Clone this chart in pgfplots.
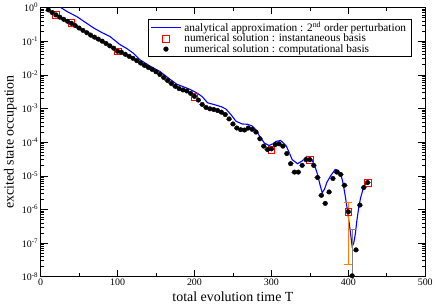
\documentclass[border=0pt]{standalone}
\usepackage{pgfplots}
\pgfplotsset{compat=1.18}
\usepackage{pgfplotstable}
\usepackage{fontspec}
\setmainfont{Liberation Serif}

\pgfplotstableread{
T ly
26 0.0
35 -0.13
47 -0.27
58 -0.44
69 -0.61
80 -0.75
90 -0.86
103 -1.10
112 -1.22
120 -1.35
129 -1.55
138 -1.68
142 -1.74
155 -1.90
168 -2.13
177 -2.28
185 -2.35
194 -2.43
204 -2.55
210 -2.65
217 -2.83
228 -2.90
235 -2.95
241 -3.02
248 -3.20
254 -3.38
262 -3.46
269 -3.47
275 -3.52
280 -3.64
284 -3.80
291 -4.03
297 -4.10
302 -4.05
306 -3.98
312 -3.95
319 -4.10
323 -4.30
327 -4.52
334 -4.64
340 -4.56
346 -4.42
350 -4.45
353 -4.54
357 -4.75
360 -4.96
363 -5.25
366 -5.50
369 -5.40
372 -5.20
377 -5.00
383 -4.81
387 -4.84
390 -4.94
393 -5.20
396 -5.60
399 -6.05
402 -6.55
405 -7.10
407 -7.00
409 -6.75
411 -6.35
413.5 -5.95
416 -5.65
420 -5.33
425.5 -5.15
}\analytic

\pgfplotstableread{
T ly
20 -0.215
40 -0.46
100 -1.30
200 -2.65
300 -4.22
350 -4.52
400 -6.07
425 -5.20
}\inst

\pgfplotstableread{
T ly
10 -0.07
15 -0.15
20 -0.22
25 -0.29
30 -0.35
35 -0.41
40 -0.47
45 -0.54
50 -0.61
55 -0.68
60 -0.75
65 -0.82
70 -0.88
75 -0.94
80 -1.00
85 -1.07
90 -1.14
95 -1.21
100 -1.30
105 -1.33
110 -1.39
115 -1.45
120 -1.51
125 -1.58
130 -1.65
135 -1.72
140 -1.78
145 -1.84
150 -1.91
155 -1.99
160 -2.08
165 -2.17
170 -2.26
175 -2.34
180 -2.41
185 -2.45
190 -2.48
195 -2.55
200 -2.64
205 -2.75
210 -2.88
215 -2.97
220 -3.01
225 -3.03
230 -3.06
235 -3.11
240 -3.18
245 -3.31
250 -3.46
255 -3.58
260 -3.63
265 -3.64
270 -3.58
275 -3.62
280 -3.70
285 -3.90
290 -4.12
295 -4.22
300 -4.20
305 -4.07
310 -4.05
315 -4.12
320 -4.34
325 -4.64
330 -4.89
335 -4.89
340 -4.69
345 -4.52
350 -4.52
355 -4.69
360 -5.05
365 -5.58
370 -5.82
375 -5.48
380 -5.08
385 -4.89
390 -4.96
395 -5.28
400 -6.07
405 -7.97
410 -7.20
415 -5.87
420 -5.35
425 -5.20
}\comp

\begin{document}
\begin{tikzpicture}
\begin{axis}[
  scale only axis,
  width=387pt, height=271pt,
  xmin=0, xmax=500,
  ymode=log, ymin=1e-8, ymax=1,
  xtick={0,100,200,300,400,500},
  xticklabels={0,100,200,300,400,500},
  minor x tick num=1,
  ytick={1e-8,1e-7,1e-6,1e-5,1e-4,1e-3,1e-2,1e-1,1},
  yticklabels={10\textsuperscript{-8},10\textsuperscript{-7},10\textsuperscript{-6},10\textsuperscript{-5},10\textsuperscript{-4},10\textsuperscript{-3},10\textsuperscript{-2},10\textsuperscript{-1},10\textsuperscript{0}},
  tick label style={font=\fontsize{10}{12}\selectfont},
  xticklabel style={yshift=1.5pt},
  yticklabel style={xshift=1pt},
  major tick length=7pt, minor tick length=3.5pt,
  tick style={black, line width=0.6pt},
  axis line style={line width=0.8pt},
  xlabel={total evolution time T},
  ylabel={excited state occupation},
  label style={font=\fontsize{14}{16}\selectfont},
  xlabel style={at={(axis description cs:0.5,-0.046)}, anchor=north, inner sep=0pt, inner ysep=2.5pt},
  ylabel style={at={(axis description cs:-0.0517,0.5)}, anchor=south, inner sep=0pt, inner ysep=4pt},
  legend cell align=left,
  legend style={at={(0.964,0.956)}, anchor=north east, draw=black, line width=0.6pt,
    font=\fontsize{11.4}{12}\selectfont, inner xsep=2pt, inner ysep=1.5pt, row sep=0pt,
    nodes={inner ysep=0.6pt, inner xsep=3pt}},
  legend image code/.code={\draw[mark repeat=2,mark phase=2,#1] plot coordinates {(0pt,0pt) (15pt,0pt) (30pt,0pt)};},
]
\addplot[blue, line width=1.1pt, no marks] table[x=T, y expr=10^(\thisrow{ly})] {\analytic};
\addlegendentry{analytical approximation : 2\textsuperscript{nd} order perturbation}
\addplot[red, only marks, mark=square, mark size=3.3pt, mark options={line width=0.6pt}] table[x=T, y expr=10^(\thisrow{ly})] {\inst};
\addlegendentry{numerical solution : instantaneous basis}
\addplot[black, only marks, mark=*, mark size=2.3pt,
  error bars/.cd, x dir=both, x fixed=4, error mark=none,
  error bar style={gray, line width=0.6pt}] table[x=T, y expr=10^(\thisrow{ly})] {\comp};
\addlegendentry{numerical solution : computational basis}
\addplot[orange, line width=0.8pt, mark=-, mark size=4pt, forget plot] coordinates {(400,1.6e-6) (400,2.4e-8)};
\addplot[gray, line width=0.8pt, no marks, forget plot] coordinates {(405,2.5e-7) (405,1e-8)};
\addplot[gray, line width=0.8pt, only marks, mark=-, mark size=4pt, forget plot] coordinates {(405,2.5e-7)};
\end{axis}
\end{tikzpicture}
\end{document}
